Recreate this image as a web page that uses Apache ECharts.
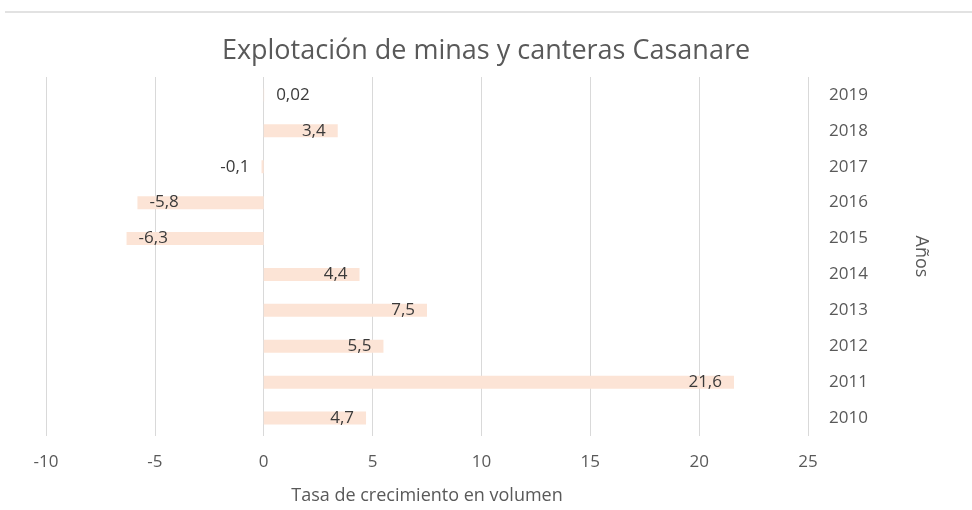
<!DOCTYPE html>
<html>
<head>
<meta charset="utf-8">
<script src="https://cdn.jsdelivr.net/npm/echarts@6/dist/echarts.min.js"></script>
<style>
  html, body { margin: 0; padding: 0; background: #fff; }
  #main { width: 972px; height: 510px; }
</style>
</head>
<body>
<div id="main"></div>
<script>
// años (de abajo hacia arriba) y tasa de crecimiento
var years = ['2010', '2011', '2012', '2013', '2014', '2015', '2016', '2017', '2018', '2019'];
var growth = [4.7, 21.6, 5.5, 7.5, 4.4, -6.3, -5.8, -0.1, 3.4, 0.02];
var xTicks = [-10, -5, 0, 5, 10, 15, 20, 25];

var myChart = echarts.init(document.getElementById('main'));

var txt = '#595959';
var fontFam = '"Open Sans", "Noto Sans", sans-serif';

// posicion de etiqueta segun signo / tamaño
var barData = growth.map(function (v) {
    var pos;
    if (Math.abs(v) < 1) {
        pos = v < 0 ? 'left' : 'right';
    } else {
        pos = v < 0 ? 'insideLeft' : 'insideRight';
    }
    return {
        value: v,
        label: { position: pos }
    };
});

myChart.setOption({
    animation: false,
    textStyle: { fontFamily: fontFam },
    title: {
        text: 'Explotación de minas y canteras Casanare',
        left: 'center',
        top: 33,
        textStyle: {
            color: txt,
            fontSize: 27,
            fontWeight: 'normal',
            fontFamily: fontFam
        }
    },
    graphic: [{
        type: 'line',
        shape: { x1: 5, y1: 12, x2: 972, y2: 12 },
        style: { stroke: '#d9d9d9', lineWidth: 1.5 }
    }],
    grid: {
        left: 46,
        right: 164,
        top: 77,
        bottom: 70
    },
    xAxis: {
        type: 'value',
        min: xTicks[0],
        max: xTicks[xTicks.length - 1],
        interval: 5,
        name: 'Tasa de crecimiento en volumen',
        nameLocation: 'middle',
        nameGap: 51,
        nameTextStyle: { color: txt, fontSize: 18 },
        axisLine: { show: false },
        axisTick: { show: false },
        axisLabel: { color: txt, fontSize: 17, margin: 18 },
        splitLine: { show: true, lineStyle: { color: '#d9d9d9', width: 1 } }
    },
    yAxis: {
        type: 'category',
        data: years,
        position: 'right',
        name: 'Años',
        nameLocation: 'middle',
        nameRotate: -90,
        nameGap: 104,
        nameTextStyle: { color: txt, fontSize: 18 },
        axisLine: { show: false },
        axisTick: { show: false },
        axisLabel: { color: txt, fontSize: 17, margin: 21 }
    },
    series: [{
        type: 'bar',
        data: barData,
        barWidth: 13,
        itemStyle: { color: '#fce4d6' },
        label: {
            show: true,
            color: '#3a3a3a',
            fontSize: 17,
            distance: 12,
            formatter: function (p) {
                return String(p.value).replace('.', ',');
            }
        }
    }]
});
</script>
</body>
</html>
